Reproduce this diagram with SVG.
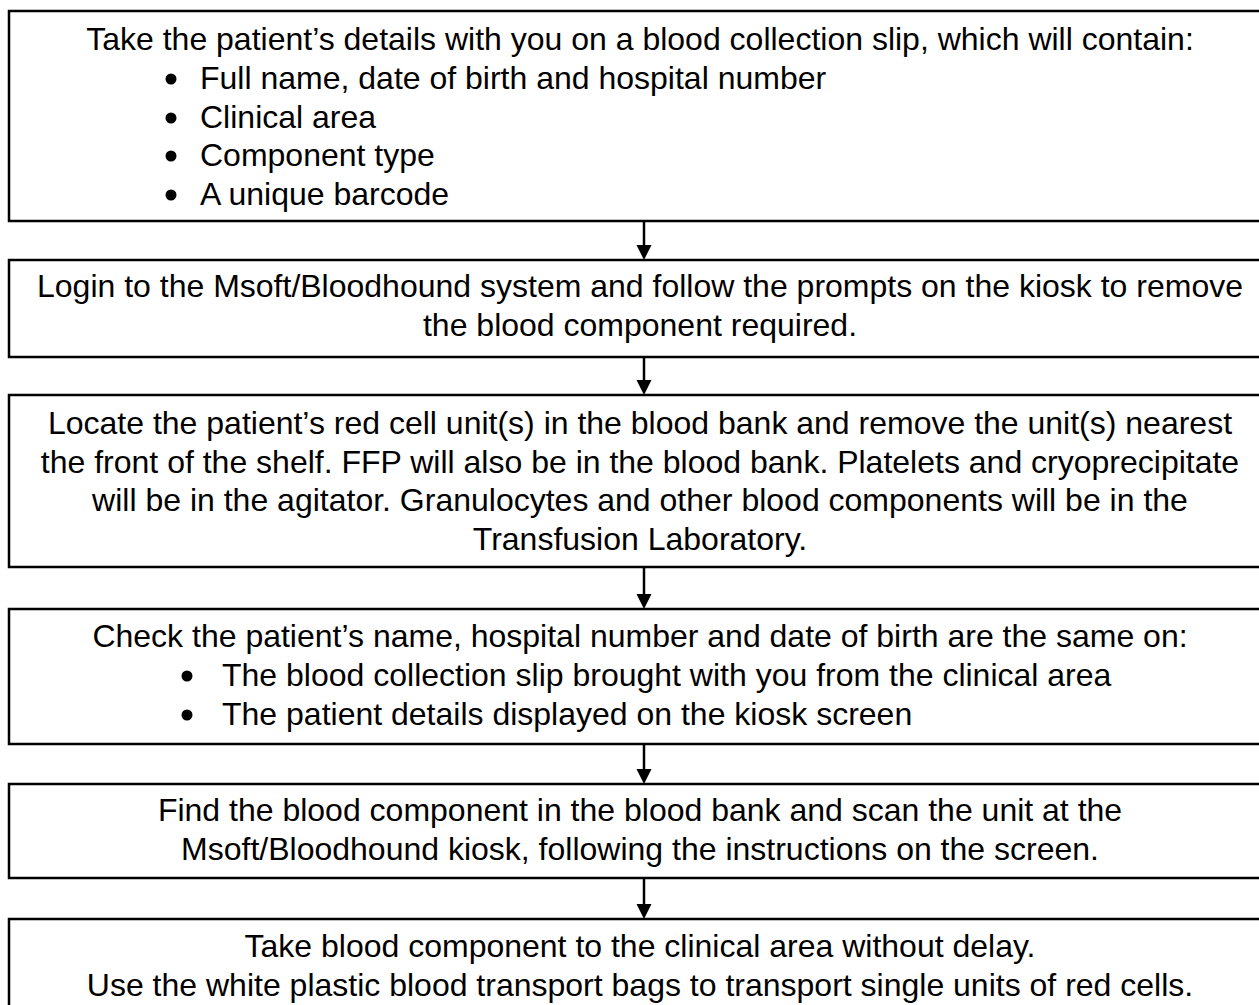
<svg xmlns="http://www.w3.org/2000/svg" width="1259" height="1005" viewBox="0 0 1259 1005">
<style>
.box{fill:#fff;stroke:#000;stroke-width:2.5}
text{font-family:"Liberation Sans",Arial,sans-serif;font-size:32px;fill:#000}
.c{text-anchor:middle}
.shaft{stroke:#000;stroke-width:2.5;fill:none}
.head{fill:#000}
</style>
<rect width="1259" height="1005" fill="#fff"/>
<g id="node1">
<rect class="box" x="9" y="11" width="1270" height="210"/>
<text class="c" x="640" y="50">Take the patient’s details with you on a blood collection slip, which will contain:</text>
<circle cx="171" cy="79" r="5.5"/><text x="200" y="89">Full name, date of birth and hospital number</text>
<circle cx="171" cy="118" r="5.5"/><text x="200" y="128">Clinical area</text>
<circle cx="171" cy="156" r="5.5"/><text x="200" y="166">Component type</text>
<circle cx="171" cy="195" r="5.5"/><text x="200" y="205">A unique barcode</text>
</g>
<g id="node2">
<rect class="box" x="9" y="260" width="1270" height="97"/>
<text class="c" x="640" y="297">Login to the Msoft/Bloodhound system and follow the prompts on the kiosk to remove</text>
<text class="c" x="640" y="336">the blood component required.</text>
</g>
<g id="node3">
<rect class="box" x="9" y="395" width="1270" height="172"/>
<text class="c" x="640" y="434">Locate the patient’s red cell unit(s) in the blood bank and remove the unit(s) nearest</text>
<text class="c" x="640" y="473">the front of the shelf. FFP will also be in the blood bank. Platelets and cryoprecipitate</text>
<text class="c" x="640" y="511">will be in the agitator. Granulocytes and other blood components will be in the</text>
<text class="c" x="640" y="550">Transfusion Laboratory.</text>
</g>
<g id="node4">
<rect class="box" x="9" y="609" width="1270" height="135"/>
<text class="c" x="640" y="647">Check the patient’s name, hospital number and date of birth are the same on:</text>
<circle cx="187" cy="676" r="5.5"/><text x="222" y="686">The blood collection slip brought with you from the clinical area</text>
<circle cx="187" cy="715" r="5.5"/><text x="222" y="725">The patient details displayed on the kiosk screen</text>
</g>
<g id="node5">
<rect class="box" x="9" y="784" width="1270" height="94"/>
<text class="c" x="640" y="821">Find the blood component in the blood bank and scan the unit at the</text>
<text class="c" x="640" y="860">Msoft/Bloodhound kiosk, following the instructions on the screen.</text>
</g>
<g id="node6">
<rect class="box" x="9" y="919" width="1270" height="100"/>
<text class="c" x="640" y="957">Take blood component to the clinical area without delay.</text>
<text class="c" x="640" y="996">Use the white plastic blood transport bags to transport single units of red cells.</text>
</g>
<g id="connectors">
<line class="shaft" x1="644" y1="221" x2="644" y2="246"/><polygon class="head" points="636.5,245 651.5,245 644,260"/>
<line class="shaft" x1="644" y1="357" x2="644" y2="381"/><polygon class="head" points="636.5,380 651.5,380 644,395"/>
<line class="shaft" x1="644" y1="567" x2="644" y2="595"/><polygon class="head" points="636.5,594 651.5,594 644,609"/>
<line class="shaft" x1="644" y1="744" x2="644" y2="770"/><polygon class="head" points="636.5,769 651.5,769 644,784"/>
<line class="shaft" x1="644" y1="878" x2="644" y2="905"/><polygon class="head" points="636.5,904 651.5,904 644,919"/>
</g>
</svg>
